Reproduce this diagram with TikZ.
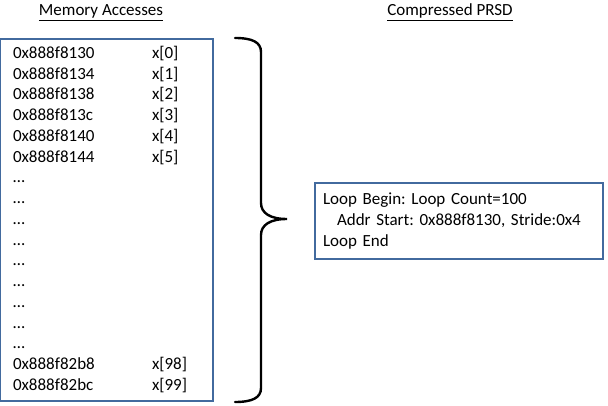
\documentclass[tikz,border=0pt]{standalone}
\usepackage{fontspec}
\setmainfont{Carlito}
\usetikzlibrary{positioning}
\definecolor{boxblue}{RGB}{66,106,158}
\frenchspacing

\begin{document}
\begin{tikzpicture}[
    x=1pt, y=1pt,
    box/.style={draw=boxblue, line width=2pt, align=left, anchor=north west, font=\fontsize{17}{20.75}\selectfont},
    heading/.style={anchor=base, font=\fontsize{17}{20.75}\selectfont},
    brace/.style={line width=2.4pt, line cap=round}
]
\useasboundingbox (0,0) rectangle (608,-406);
\node[heading] (memtitle) at (101,-15.7) {\underline{Memory Accesses}};
\node[heading] (prsdtitle) at (450,-15.7) {\underline{Compressed PRSD}};
\node[box, minimum width=213pt, minimum height=361.5pt, text width=187pt, inner xsep=13pt] (mem) at (-1,-38.5) {%
\begin{tabular}{@{}p{139pt}@{}l@{}}
0x888f8130 & x[0]\\
0x888f8134 & x[1]\\
0x888f8138 & x[2]\\
0x888f813c & x[3]\\
0x888f8140 & x[4]\\
0x888f8144 & x[5]\\
\dots & \\
\dots & \\
\dots & \\
\dots & \\
\dots & \\
\dots & \\
\dots & \\
\dots & \\
\dots & \\
0x888f82b8 & x[98]\\
0x888f82bc & x[99]
\end{tabular}};
\node[box, minimum width=288pt, minimum height=76pt, text width=272pt, inner xsep=8pt, font=\fontsize{17}{21}\selectfont] (prsd) at (314,-182) {Loop Begin: Loop Count=100\\
\hspace*{14pt}Addr Start: 0x888f8130, Stride:0x4\\
Loop End};
% brace from the accesses to the summary
\coordinate (tip) at (287,-219);
\draw[brace] (235,-38) .. controls (252,-38) and (261,-42) .. (261,-52) -- (261,-203)
    .. controls (261,-213) and (270,-219) .. (tip)
    .. controls (270,-219) and (261,-225) .. (261,-235) -- (261,-388)
    .. controls (261,-398) and (252,-402) .. (235,-402);
\end{tikzpicture}
\end{document}
